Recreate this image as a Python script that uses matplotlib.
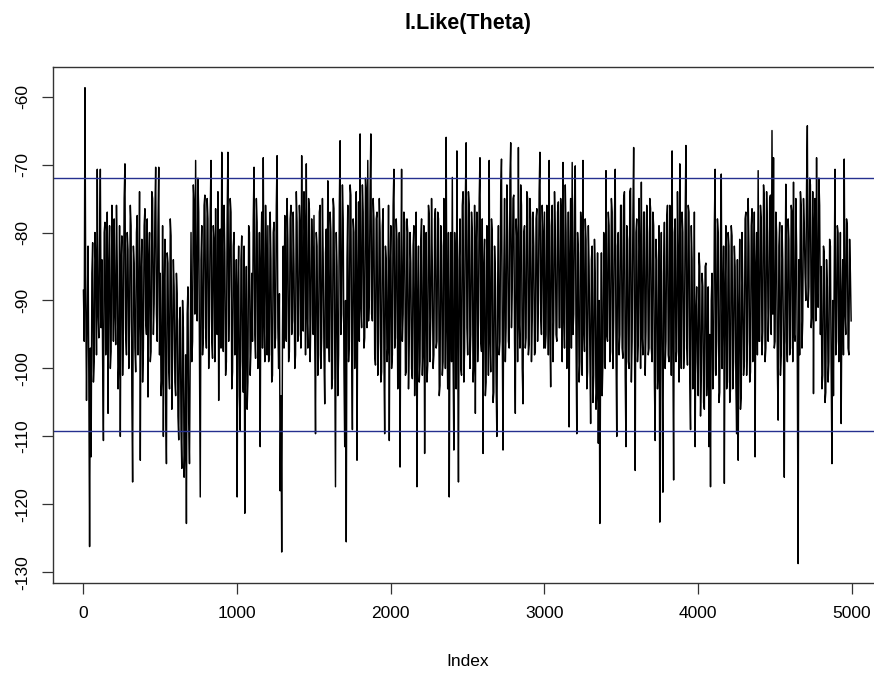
import numpy as np
import matplotlib
matplotlib.use("Agg")
import matplotlib.pyplot as plt

plt.rcParams['font.family'] = ['Liberation Sans', 'DejaVu Sans']

# ---- data ----
# draws at index 1, 11, 21, ... (every 10th draw)
draws_a = [
    -88.5, -58.7, -104.7, -82.0, -126.2, -113.0, -81.5, -99.0, -84.0, -70.7,
    -95.5, -70.7, -84.0, -110.6, -78.5, -93.0, -106.6, -79.0, -97.5, -83.0,
    -78.0, -96.5, -85.0, -99.5, -110.0, -80.5, -94.0, -69.9, -98.0, -82.5,
    -93.0, -79.0, -116.7, -84.5, -100.5, -77.5, -91.0, -113.5, -81.0, -97.0,
    -76.5, -95.0, -104.2, -80.0, -97.5, -75.0, -90.5, -70.4, -96.0, -70.4,
    -86.0, -101.5, -110.0, -81.0, -114.0, -84.5, -103.0, -80.5, -98.0, -88.0,
    -104.0, -89.0, -110.5, -91.0, -114.7, -94.0, -112.0, -122.8, -88.0, -114.0,
    -80.0, -96.0, -75.5, -69.4, -93.0, -77.0, -118.9, -79.0, -95.5, -74.5,
    -97.0, -78.0, -92.5, -69.4, -98.5, -81.0, -76.5, -95.0, -104.7, -79.5,
    -68.2, -97.5, -83.0, -99.0, -68.2, -88.0, -77.0, -100.5, -80.0, -95.0,
    -118.9, -82.0, -109.1, -80.5, -103.5, -121.3, -85.0, -102.0, -80.0, -97.0,
    -96.0, -70.4, -98.5, -78.5, -92.0, -111.5, -77.0, -69.0, -99.0, -83.5,
    -79.0, -98.0, -84.0, -101.0, -78.5, -95.5, -68.7, -100.0, -118.0, -127.0,
    -82.0, -77.5, -96.0, -81.0, -97.5, -76.0, -93.0, -85.0, -98.0, -78.5,
    -95.0, -79.0, -68.7, -94.5, -80.0, -69.9, -97.0, -76.5, -92.0, -83.0,
    -77.5, -109.6, -82.0, -98.0, -76.0, -95.5, -84.0, -105.2, -79.5, -72.4,
    -99.0, -80.0, -101.5, -76.5, -117.4, -85.0, -98.0, -66.5, -92.0, -78.0,
    -111.5, -125.5, -76.0, -96.0, -74.5, -109.0, -80.0, -93.5, -113.5, -75.5,
    -65.5, -94.0, -77.0, -95.5, -74.0, -69.4, -90.0, -65.5, -93.0, -78.0,
    -99.5, -77.0, -96.0, -80.0, -100.5, -76.5, -109.6, -84.0, -97.0, -110.6,
    -79.0, -98.0, -70.7, -95.5, -81.0, -100.0, -114.5, -70.7, -92.0, -78.5,
    -100.5, -80.0, -96.0, -84.5, -101.5, -79.0, -94.0, -117.4, -82.0, -99.0,
    -78.0, -97.0, -112.5, -80.0, -99.5, -77.5, -92.5, -85.0, -98.0, -76.5,
    -96.0, -78.0, -102.5, -82.0, -99.0, -76.0, -66.0, -103.0, -118.9, -80.0,
    -71.9, -112.0, -85.0, -68.0, -116.7, -78.0, -101.0, -74.0, -97.0, -66.8,
    -98.0, -76.0, -95.0, -80.0, -99.5, -106.6, -77.0, -93.0, -69.0, -97.5,
    -112.5, -81.0, -102.0, -84.0, -69.4, -100.5, -80.0, -103.5, -86.0, -110.0,
    -79.0, -96.0, -69.2, -112.0, -75.0, -94.0, -80.0, -97.0, -66.8, -88.0,
    -74.5, -106.6, -81.0, -67.5, -97.0, -76.0, -105.2, -79.0, -95.5, -75.0,
    -96.5, -78.0, -93.0, -82.0, -97.5, -76.5, -90.0, -68.2, -95.0, -80.0,
    -77.0, -95.0, -82.0, -69.4, -102.7, -76.0, -93.0, -79.5, -96.0, -75.5,
    -94.0, -78.0, -69.7, -97.0, -80.0, -96.5, -108.6, -75.0, -69.7, -92.0,
    -70.2, -109.6, -83.0, -99.0, -79.0, -69.4, -97.5, -81.0, -100.5, -85.0,
    -108.1, -82.0, -101.0, -86.0, -103.5, -111.0, -122.8, -83.0, -99.0, -81.5,
    -70.9, -96.0, -79.0, -97.5, -77.0, -93.0, -70.7, -110.0, -80.0, -95.0,
    -76.0, -98.5, -74.0, -111.5, -81.0, -100.0, -73.5, -96.0, -67.5, -115.0,
    -78.0, -96.0, -83.0, -72.6, -98.0, -77.0, -94.5, -80.0, -97.0, -76.5,
    -99.0, -79.0, -110.6, -84.0, -100.0, -122.6, -80.0, -118.2, -78.5, -96.0,
    -76.0, -99.0, -82.0, -68.0, -116.4, -78.0, -97.5, -85.0, -69.9, -100.0,
    -80.0, -97.0, -67.2, -99.5, -77.0, -109.0, -84.0, -101.0, -111.5, -88.0,
    -104.0, -85.0, -101.0, -88.0, -106.0, -84.5, -99.0, -111.5, -117.4, -86.0,
    -100.0, -70.7, -96.0, -80.0, -103.5, -71.4, -90.0, -116.9, -79.0, -102.0,
    -82.0, -103.0, -80.5, -99.0, -85.0, -109.6, -113.5, -81.0, -104.0, -88.0,
    -99.0, -77.0, -96.0, -82.0, -100.5, -76.5, -92.0, -113.0, -80.0, -70.9,
    -96.0, -78.0, -94.5, -75.0, -97.0, -80.0, -91.0, -74.5, -65.0, -69.0,
    -96.0, -80.0, -107.6, -78.5, -98.0, -84.0, -116.0, -72.9, -99.0, -81.0,
    -97.0, -77.0, -72.6, -96.0, -82.0, -128.7, -98.0, -76.0, -93.0, -79.0,
    -90.0, -64.3, -88.0, -73.0, -92.0, -103.7, -75.0, -69.0, -91.0, -76.0,
    -85.0, -101.0, -83.0, -103.5, -88.0, -99.0, -82.0, -114.0, -104.0, -70.7,
    -96.0, -80.0, -97.5, -108.1, -84.0, -69.2, -95.0, -79.0, -98.0, -86.0,
]
# draws at index 6, 16, 26, ... (in between)
draws_b = [
    -96, -90, -92, -101, -97, -86, -102, -80, -98, -92,
    -82, -94, -99, -80, -98, -77, -85, -100, -76, -96,
    -92, -76, -103, -79, -84, -101, -75, -95, -80, -100,
    -76, -104, -82, -97, -80, -98, -74, -86, -102, -79,
    -93, -78, -84, -99, -74, -95, -77, -92, -79, -98,
    -104, -79, -88, -105, -83, -100, -78, -106, -84, -102,
    -86, -107, -93, -109, -90, -116, -98, -92, -108, -96,
    -99, -73, -92, -90, -72, -97, -84, -98, -76, -94,
    -75, -100, -77, -96, -79, -99, -94, -74, -85, -97,
    -94, -76, -101, -78, -96, -75, -103, -82, -98, -84,
    -88, -104, -84, -99, -82, -94, -106, -79, -101, -86,
    -78, -95, -75, -100, -80, -84, -97, -93, -76, -98,
    -99, -77, -102, -80, -97, -76, -94, -89, -104, -95,
    -97, -94, -75, -99, -78, -95, -77, -100, -74, -96,
    -76, -97, -90, -74, -98, -92, -75, -99, -78, -95,
    -96, -80, -101, -77, -100, -75, -98, -83, -97, -94,
    -77, -103, -75, -98, -80, -104, -76, -95, -73, -100,
    -90, -84, -99, -73, -97, -78, -100, -74, -88, -96,
    -91, -73, -97, -72, -94, -93, -74, -92, -75, -98,
    -78, -101, -75, -102, -79, -98, -82, -99, -76, -85,
    -100, -76, -97, -78, -103, -80, -88, -96, -77, -101,
    -78, -103, -80, -100, -82, -104, -77, -90, -102, -81,
    -101, -79, -88, -102, -76, -99, -75, -100, -78, -97,
    -77, -104, -79, -101, -75, -100, -94, -80, -92, -99,
    -98, -80, -103, -95, -84, -100, -76, -102, -75, -94,
    -74, -100, -77, -102, -76, -82, -99, -75, -96, -78,
    -85, -104, -79, -101, -96, -78, -105, -82, -102, -88,
    -98, -74, -95, -86, -99, -73, -96, -72, -94, -75,
    -96, -78, -99, -93, -73, -100, -80, -97, -74, -98,
    -75, -99, -77, -98, -78, -96, -74, -92, -76, -97,
    -97, -76, -98, -94, -79, -99, -74, -95, -77, -94,
    -75, -99, -92, -73, -100, -77, -84, -97, -95, -76,
    -96, -80, -102, -77, -101, -94, -78, -103, -79, -98,
    -84, -105, -81, -106, -83, -90, -98, -104, -80, -100,
    -95, -77, -99, -75, -100, -78, -97, -82, -98, -76,
    -97, -75, -101, -79, -99, -74, -102, -78, -94, -80,
    -99, -75, -100, -95, -77, -101, -76, -98, -75, -97,
    -77, -102, -81, -103, -79, -90, -101, -86, -100, -78,
    -98, -76, -101, -96, -80, -99, -74, -102, -94, -77,
    -100, -78, -96, -76, -102, -79, -103, -77, -92, -99,
    -83, -107, -86, -105, -85, -104, -88, -95, -90, -103,
    -79, -101, -78, -105, -81, -100, -82, -88, -103, -80,
    -105, -79, -103, -82, -102, -84, -92, -106, -80, -101,
    -78, -101, -75, -102, -79, -99, -77, -85, -98, -96,
    -76, -98, -73, -99, -74, -96, -75, -95, -92, -97,
    -77, -100, -82, -101, -79, -97, -88, -96, -78, -98,
    -76, -99, -95, -75, -100, -84, -74, -97, -75, -86,
    -73, -91, -72, -94, -74, -80, -93, -89, -72, -95,
    -103, -82, -105, -84, -102, -81, -100, -90, -86, -98,
    -79, -99, -80, -90, -98, -92, -78, -97, -81, -93,
]
ref_lines = [-72.05, -109.2]
x_ticks = [0, 1000, 2000, 3000, 4000, 5000]
y_ticks = [-130, -120, -110, -100, -90, -80, -70, -60]
title = "l.Like(Theta)"
xlabel = "Index"

loglik = np.empty(len(draws_a) + len(draws_b))
loglik[0::2] = draws_a
loglik[1::2] = draws_b
index = 1 + 5 * np.arange(len(loglik))

fig = plt.figure(figsize=(8.74, 6.73), dpi=100)
ax = fig.add_axes([52.7 / 874, 1 - 583.3 / 673, (882.5 - 52.7) / 874, (583.3 - 67.3) / 673])

ax.plot(index, loglik, color='black', lw=1.05)
for v in ref_lines:
    ax.axhline(v, color='#25308f', lw=1.0)

ax.set_xlim(-199, 5200)
ax.set_ylim(-131.6, -55.7)
ax.set_xticks(x_ticks)
ax.set_yticks(y_ticks)
ax.set_yticklabels([str(v) for v in y_ticks], rotation=90, va='center')
ax.tick_params(direction='out', length=8, width=0.9, labelsize=12.5, colors='#333333',
               labelcolor='black', pad=8)
for s in ax.spines.values():
    s.set_color('#333333')
    s.set_linewidth(1.0)

fig.text(467.6 / 874, 1 - 24 / 673, title, ha='center', va='center',
         fontsize=15.5, fontweight='bold')
fig.text(467.6 / 874, 1 - 662 / 673, xlabel, ha='center', va='center', fontsize=12.5)

fig.savefig('out.png', dpi=100)
